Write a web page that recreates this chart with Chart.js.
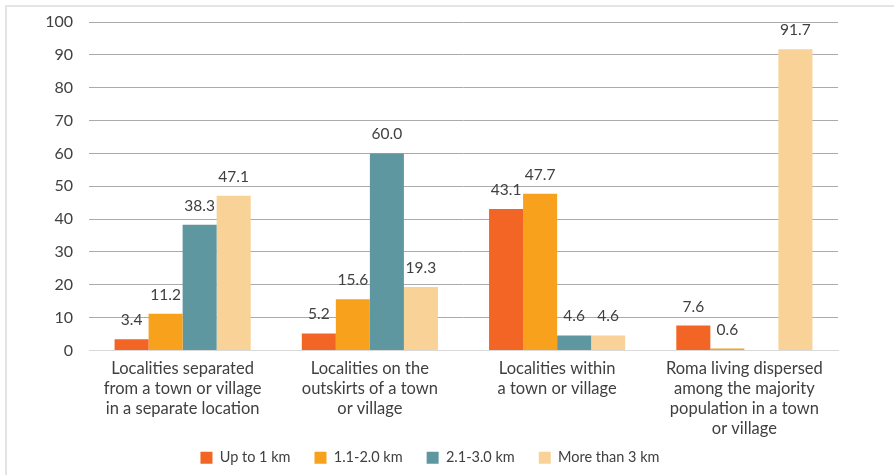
<!DOCTYPE html>
<html>
<head>
<meta charset="utf-8">
<script src="https://cdn.jsdelivr.net/npm/chart.js@4.4.0/dist/chart.umd.min.js"></script>
<style>
  html, body { margin: 0; padding: 0; background: #fff; }
  #wrap { position: relative; width: 894px; height: 475px; }
  #frame { position: absolute; left: 5px; top: 5px; width: 900px; height: 480px;
           border-top: 2px solid #e4e4e4; border-left: 2px solid #e4e4e4; pointer-events: none; }
  canvas { position: absolute; left: 0; top: 0; }
</style>
</head>
<body>
<div id="wrap">
  <canvas id="c" width="894" height="475"></canvas>
  <div id="frame"></div>
</div>
<script>
const categories = [
  ["Localities separated", "from a town or village", "in a separate location"],
  ["Localities on the", "outskirts of a town", "or village"],
  ["Localities within", "a town or village"],
  ["Roma living dispersed", "among the majority", "population in a town", "or village"]
];
const seriesNames = ["Up to 1 km", "1.1-2.0 km", "2.1-3.0 km", "More than 3 km"];
const upTo1km = [3.4, 5.2, 43.1, 7.6];
const km1to2 = [11.2, 15.6, 47.7, 0.6];
const km2to3 = [38.3, 60.0, 4.6, null];
const moreThan3km = [47.1, 19.3, 4.6, 91.7];
const colors = ["#F26524", "#F7A11D", "#5F97A1", "#F8D296"];

const seriesValues = [upTo1km, km1to2, km2to3, moreThan3km];
const FONT = "Lato, 'Open Sans', sans-serif";
const TXT = "#404040";

const labelPlugin = {
  id: "valueLabels",
  afterLayout(chart) {
    // let the multi-line category labels overflow into the legend band, and nudge the legend
    if (chart.scales.x) chart.scales.x.bottom = chart.height;
    if (chart.legend) { chart.legend.left += 11; chart.legend.right += 11; }
  },
  afterDatasetsDraw(chart) {
    const ctx = chart.ctx;
    ctx.save();
    ctx.font = "15.5px " + FONT;
    ctx.fillStyle = TXT;
    ctx.textAlign = "center";
    ctx.textBaseline = "middle";
    chart.data.datasets.forEach((ds, di) => {
      const meta = chart.getDatasetMeta(di);
      meta.data.forEach((bar, i) => {
        const v = ds.data[i];
        if (v === null || v === undefined) return;
        ctx.fillText(v.toFixed(1), bar.x, bar.y - 19);
      });
    });
    ctx.restore();
  }
};

new Chart(document.getElementById("c"), {
  type: "bar",
  data: {
    labels: categories,
    datasets: seriesNames.map((n, i) => ({
      label: n,
      data: seriesValues[i],
      backgroundColor: colors[i],
      borderWidth: 0,
      categoryPercentage: 0.727,
      barPercentage: 1.0
    }))
  },
  options: {
    responsive: false,
    animation: false,
    devicePixelRatio: 1,
    layout: { padding: { left: 0, right: 56, top: 22, bottom: 0 } },
    scales: {
      y: {
        min: 0, max: 100,
        ticks: { stepSize: 10, color: TXT, font: { size: 16, family: FONT }, padding: 16 },
        grid: { color: "#ababab", lineWidth: 1, drawTicks: false },
        border: { display: false },
        afterFit(s) { s.width = 89; s.paddingTop = 0; s.paddingBottom = 0; }
      },
      x: {
        ticks: { color: TXT, font: { size: 16.5, family: FONT, lineHeight: 1.21 }, padding: 8, maxRotation: 0, autoSkip: false },
        grid: { display: false, drawTicks: false },
        border: { display: true, color: "#d9d9d9", width: 1 },
        afterFit(s) { s.height = 76; }
      }
    },
    plugins: {
      legend: {
        position: "bottom",
        labels: { color: TXT, font: { size: 14.5, family: FONT }, boxWidth: 12, boxHeight: 12, padding: 24 }
      },
      tooltip: { enabled: false }
    }
  },
  plugins: [labelPlugin]
});
</script>
</body>
</html>
